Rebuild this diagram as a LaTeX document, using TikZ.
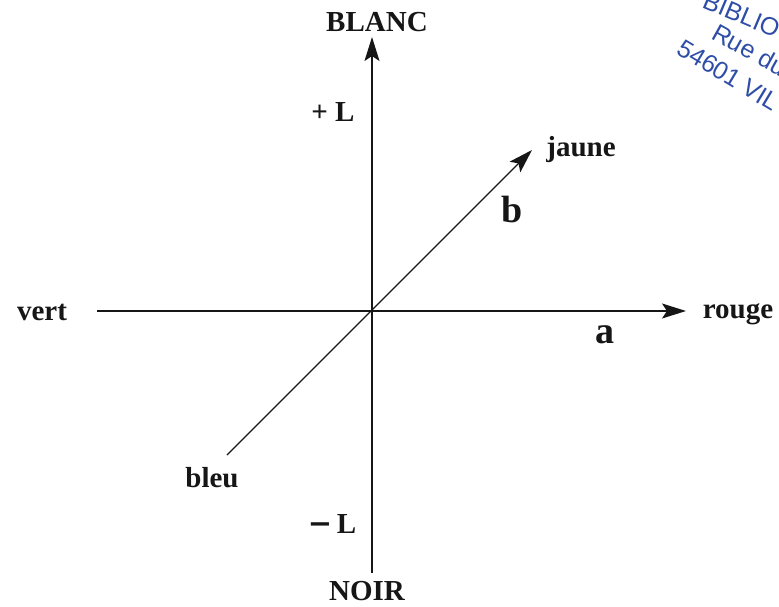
\documentclass[tikz,border=0pt]{standalone}
\usepackage{fontspec}
\setmainfont{Liberation Serif}
\newfontfamily\stampfont{Liberation Sans}
\newfontfamily\signfont{DejaVu Sans}
\usepackage{xcolor}
\usetikzlibrary{arrows.meta}
\definecolor{stampblue}{HTML}{2E4DA6}
\definecolor{inkgray}{HTML}{161616}

\begin{document}
\begin{tikzpicture}[x=1pt, y=-1pt, >={Stealth[length=24pt,width=15pt,inset=5pt]},
  axis/.style={draw=inkgray, line width=1.4pt},
  lbl/.style={font=\fontsize{29}{32}\selectfont\bfseries, text=inkgray, inner sep=0pt, anchor=base},
  biglbl/.style={font=\fontsize{38}{40}\selectfont\bfseries, text=inkgray, inner sep=0pt, anchor=base},
  stamp/.style={font=\stampfont\fontsize{25}{28}\selectfont, text=stampblue, inner sep=0pt,
    anchor=base west}]
  \useasboundingbox (0,0) rectangle (779,607);
  % axes end points
  \coordinate (O) at (372,311);
  \coordinate (top) at (372,37);
  \coordinate (bottom) at (372,573);
  \coordinate (left) at (97,311);
  \coordinate (right) at (686,311);
  \coordinate (jauneend) at (532,150);
  \coordinate (bleuend) at (227,455);
  \draw[axis, ->] (bottom) -- (top);
  \draw[axis, ->] (left) -- (right);
  \draw[axis, ->] (bleuend) -- (jauneend);
  % labels
  \node[lbl] (blanc) at (377,32) {BLANC};
  \node[lbl] (plusL) at (333,122) {+ L};
  \node[lbl] (jaune) at (581,157) {jaune};
  \node[biglbl] (b) at (512,222) {b};
  \node[lbl] (vert) at (42,320) {vert};
  \node[lbl] (rouge) at (738,318) {rouge};
  \node[biglbl] (a) at (605,343) {a};
  \node[lbl] (bleu) at (212,487) {bleu};
  \node[lbl] (minusL) at (332,533) {{\signfont\bfseries −}\,L};
  \node[lbl] (noir) at (367,600) {NOIR};
  % stamp in the corner
  \begin{scope}
    \clip (0,0) rectangle (779,607);
    \node[stamp, rotate=-23] (stamp1) at (701,7) {BIBLIO};
    \node[stamp, rotate=-29] (stamp2) at (710,38) {Rue du};
    \node[stamp, rotate=-31] (stamp3) at (675,53) {54601 VIL};
  \end{scope}
\end{tikzpicture}
\end{document}
